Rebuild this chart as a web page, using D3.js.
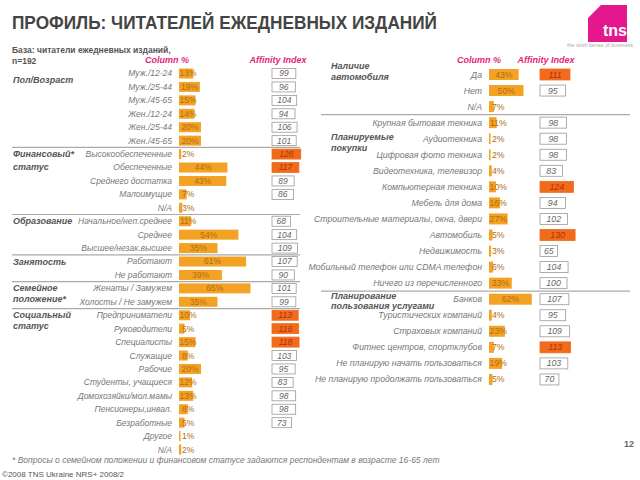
<!DOCTYPE html>
<html><head><meta charset="utf-8">
<script src="https://cdn.jsdelivr.net/npm/d3@7"></script>
<style>body{margin:0;background:#fff}svg{display:block}</style>
</head><body>
<svg id="c" width="640" height="480"></svg>
<script>
// ---- data ----
const leftLabels = ["Муж./12-24","Муж./25-44","Муж./45-65","Жен./12-24","Жен./25-44","Жен./45-65",
 "Высокообеспеченные","Обеспеченные","Среднего достатка","Малоимущие","N/A",
 "Начальное/неп.среднее","Среднее","Высшее/незак.высшее",
 "Работают","Не работают",
 "Женаты / Замужем","Холосты / Не замужем",
 "Предприниматели","Руководители","Специалисты","Служащие","Рабочие","Студенты, учащиеся","Домохозяйки/мол.мамы","Пенсионеры,инвал.","Безработные","Другое","N/A"];
const leftPct = [13,19,15,14,20,20, 2,44,43,7,3, 11,54,35, 61,39, 65,35, 10,5,15,8,20,12,13,8,5,1,2];
const leftAff = [99,96,104,94,106,101, 128,117,89,86,null, 68,104,109, 107,90, 101,99, 113,116,118,103,95,83,98,98,73,null,null];
const leftGroups = [{row:0.5,gap:13,lines:["Пол/Возраст"]},{row:6,gap:13,lines:["Финансовый*","статус"]},{row:11,gap:13,lines:["Образование"]},
 {row:14,gap:13,lines:["Занятость"]},{row:16,gap:10.5,lines:["Семейное","положение*"]},{row:18,gap:10.5,lines:["Социальный","статус"]}];
const leftSeps = [6,11,14,16,18];

const rightLabels = ["Да","Нет","N/A",
 "Крупная бытовая техника","Аудиотехника","Цифровая фото техника","Видеотехника, телевизор","Компьютерная техника","Мебель для дома","Строительные материалы, окна, двери","Автомобиль","Недвижимость","Мобильный телефон или CDMA телефон","Ничего из перечисленного",
 "Банков","Туристических компаний","Страховых компаний","Фитнес центров, спортклубов","Не планирую начать пользоваться","Не планирую продолжать пользоваться"];
const rightPct = [43,50,7, 11,2,2,4,10,16,27,5,3,6,33, 62,4,23,7,19,5];
const rightAff = [111,95,null, 98,98,98,83,124,94,102,130,65,104,100, 107,95,109,113,103,70];
const rightGroups = [{y:69,gap:10.5,lines:["Наличие","автомобиля"]},{y:140,gap:10.5,lines:["Планируемые","покупки"]},{y:299,gap:9.5,lines:["Планирование","пользования услугами"]}];
const rightSeps = [3,14];

const highlightMin = 110;
// ---- drawing ----
const svg = d3.select("#c");
const F = "'Liberation Sans', Arial, sans-serif";
const barCol = "#f3a224", hiCol = "#f26a1c";

svg.append("text").attr("x",12).attr("y",29).attr("font-family",F).attr("font-weight","bold")
 .attr("font-size",18.5).attr("fill","#444").attr("textLength",425).attr("lengthAdjust","spacingAndGlyphs")
 .text("ПРОФИЛЬ: ЧИТАТЕЛЕЙ ЕЖЕДНЕВНЫХ ИЗДАНИЙ");
svg.append("text").attr("x",12).attr("y",53).attr("font-family",F).attr("font-weight","bold")
 .attr("font-size",8.5).attr("fill","#555").text("База: читатели ежедневных изданий,");
svg.append("text").attr("x",12).attr("y",64).attr("font-family",F).attr("font-weight","bold")
 .attr("font-size",8.5).attr("fill","#555").text("n=192");

// logo
const lg = svg.append("g");
lg.append("path").attr("d","M601,5 L627,5 L627,42 L588,42 L588,18 Z").attr("fill","#e5178d");
lg.append("text").attr("x",627).attr("y",36).attr("text-anchor","end").attr("font-family",F).attr("font-weight","bold").attr("font-size",16).attr("fill","#fff").text("tns");
lg.append("text").attr("x",633).attr("y",47).attr("text-anchor","end").attr("font-family",F).attr("font-size",5.5).attr("fill","#aaa").text("the sixth sense of business");

function header(x1,x2,y){
  [["Column %",x1],["Affinity Index",x2]].forEach(([t,x])=>{
    svg.append("text").attr("x",x).attr("y",y).attr("text-anchor","middle").attr("font-family",F)
     .attr("font-weight","bold").attr("font-style","italic").attr("font-size",9).attr("fill","#e2267a").text(t);
  });
}
header(167,278,63);
header(479,546,63);

function panel(opt){
  const {labels,pct,aff,x0,x1,y0,step,labelX,boxX,affRange,barH,boxH,fs,sepRows,sepX1,sepX2} = opt;
  const idx = d3.range(labels.length);
  const y = d3.scaleLinear().domain([0,labels.length-1]).range([y0,y0+step*(labels.length-1)]);
  const x = d3.scaleLinear().domain([0,100]).range([x0,x1]);
  const w = d3.scaleLinear().domain([0,100]).range(affRange);
  const g = svg.append("g");
  sepRows.forEach(r=>{
    g.append("line").attr("x1",sepX1).attr("x2",sepX2).attr("y1",y(r)-step/2).attr("y2",y(r)-step/2)
     .attr("stroke","#aaa").attr("stroke-width",1.2);
  });
  const row = g.selectAll("g.r").data(idx).join("g");
  row.append("text").attr("x",labelX).attr("y",i=>y(i)+fs*0.35).attr("text-anchor","end")
   .attr("font-family",F).attr("font-style","italic").attr("font-size",fs).attr("fill","#777").text(i=>labels[i]);
  row.append("rect").attr("x",x0).attr("y",i=>y(i)-barH/2).attr("height",barH)
   .attr("width",i=>Math.max(x(pct[i])-x0,1.5)).attr("fill",barCol);
  row.append("text").attr("font-family",F).attr("font-size",fs).attr("fill","#b06d12")
   .attr("y",i=>y(i)+fs*0.35).attr("text-anchor","middle")
   .attr("x",i=>Math.max((x0+x(pct[i]))/2, x0+fs*0.95+1)).text(i=>pct[i]+"%");
  const a = row.filter(i=>aff[i]!=null);
  a.append("rect").attr("x",boxX).attr("y",i=>y(i)-boxH/2).attr("height",boxH).attr("width",i=>w(aff[i]))
   .attr("fill",i=>aff[i]>=highlightMin?hiCol:"#fff").attr("stroke",i=>aff[i]>=highlightMin?hiCol:"#999").attr("stroke-width",0.8);
  a.append("text").attr("x",i=>boxX+w(aff[i])/2).attr("y",i=>y(i)+fs*0.35).attr("text-anchor","middle")
   .attr("font-family",F).attr("font-style","italic").attr("font-size",fs)
   .attr("fill",i=>aff[i]>=highlightMin?"#a8360c":"#666").text(i=>aff[i]);
  return y;
}

const yl = panel({labels:leftLabels,pct:leftPct,aff:leftAff,x0:179,x1:289,y0:73.5,step:13.43,labelX:172,boxX:272,
  affRange:[7,24],barH:10,boxH:10,fs:8.5,sepRows:leftSeps,sepX1:12,sepX2:300});
const yr = panel({labels:rightLabels,pct:rightPct,aff:rightAff,x0:489,x1:558,y0:74.5,step:16.05,labelX:482,boxX:540,
  affRange:[0,27],barH:11,boxH:11,fs:8.7,sepRows:rightSeps,sepX1:321,sepX2:630});

leftGroups.forEach(gp=>{
  gp.lines.forEach((t,k)=>{
    svg.append("text").attr("x",13).attr("y",yl(gp.row)+3+k*gp.gap).attr("font-family",F).attr("font-weight","bold")
     .attr("font-style","italic").attr("font-size",9).attr("fill","#555").text(t);
  });
});
rightGroups.forEach(gp=>{
  gp.lines.forEach((t,k)=>{
    svg.append("text").attr("x",331).attr("y",gp.y+k*gp.gap).attr("font-family",F).attr("font-weight","bold")
     .attr("font-style","italic").attr("font-size",9).attr("fill","#555").text(t);
  });
});

svg.append("text").attr("x",12).attr("y",463).attr("font-family",F).attr("font-style","italic").attr("font-size",8.5)
 .attr("fill","#777").text("* Вопросы о семейном положении и финансовом статусе задаются респондентам в возрасте 16-65 лет");
svg.append("text").attr("x",2).attr("y",477).attr("font-family",F).attr("font-size",8)
 .attr("fill","#555").text("©2008 TNS Ukraine  NRS+ 2008/2");
svg.append("text").attr("x",634).attr("y",447).attr("text-anchor","end").attr("font-family",F).attr("font-weight","bold").attr("font-size",9)
 .attr("fill","#666").text("12");
</script>
</body></html>
